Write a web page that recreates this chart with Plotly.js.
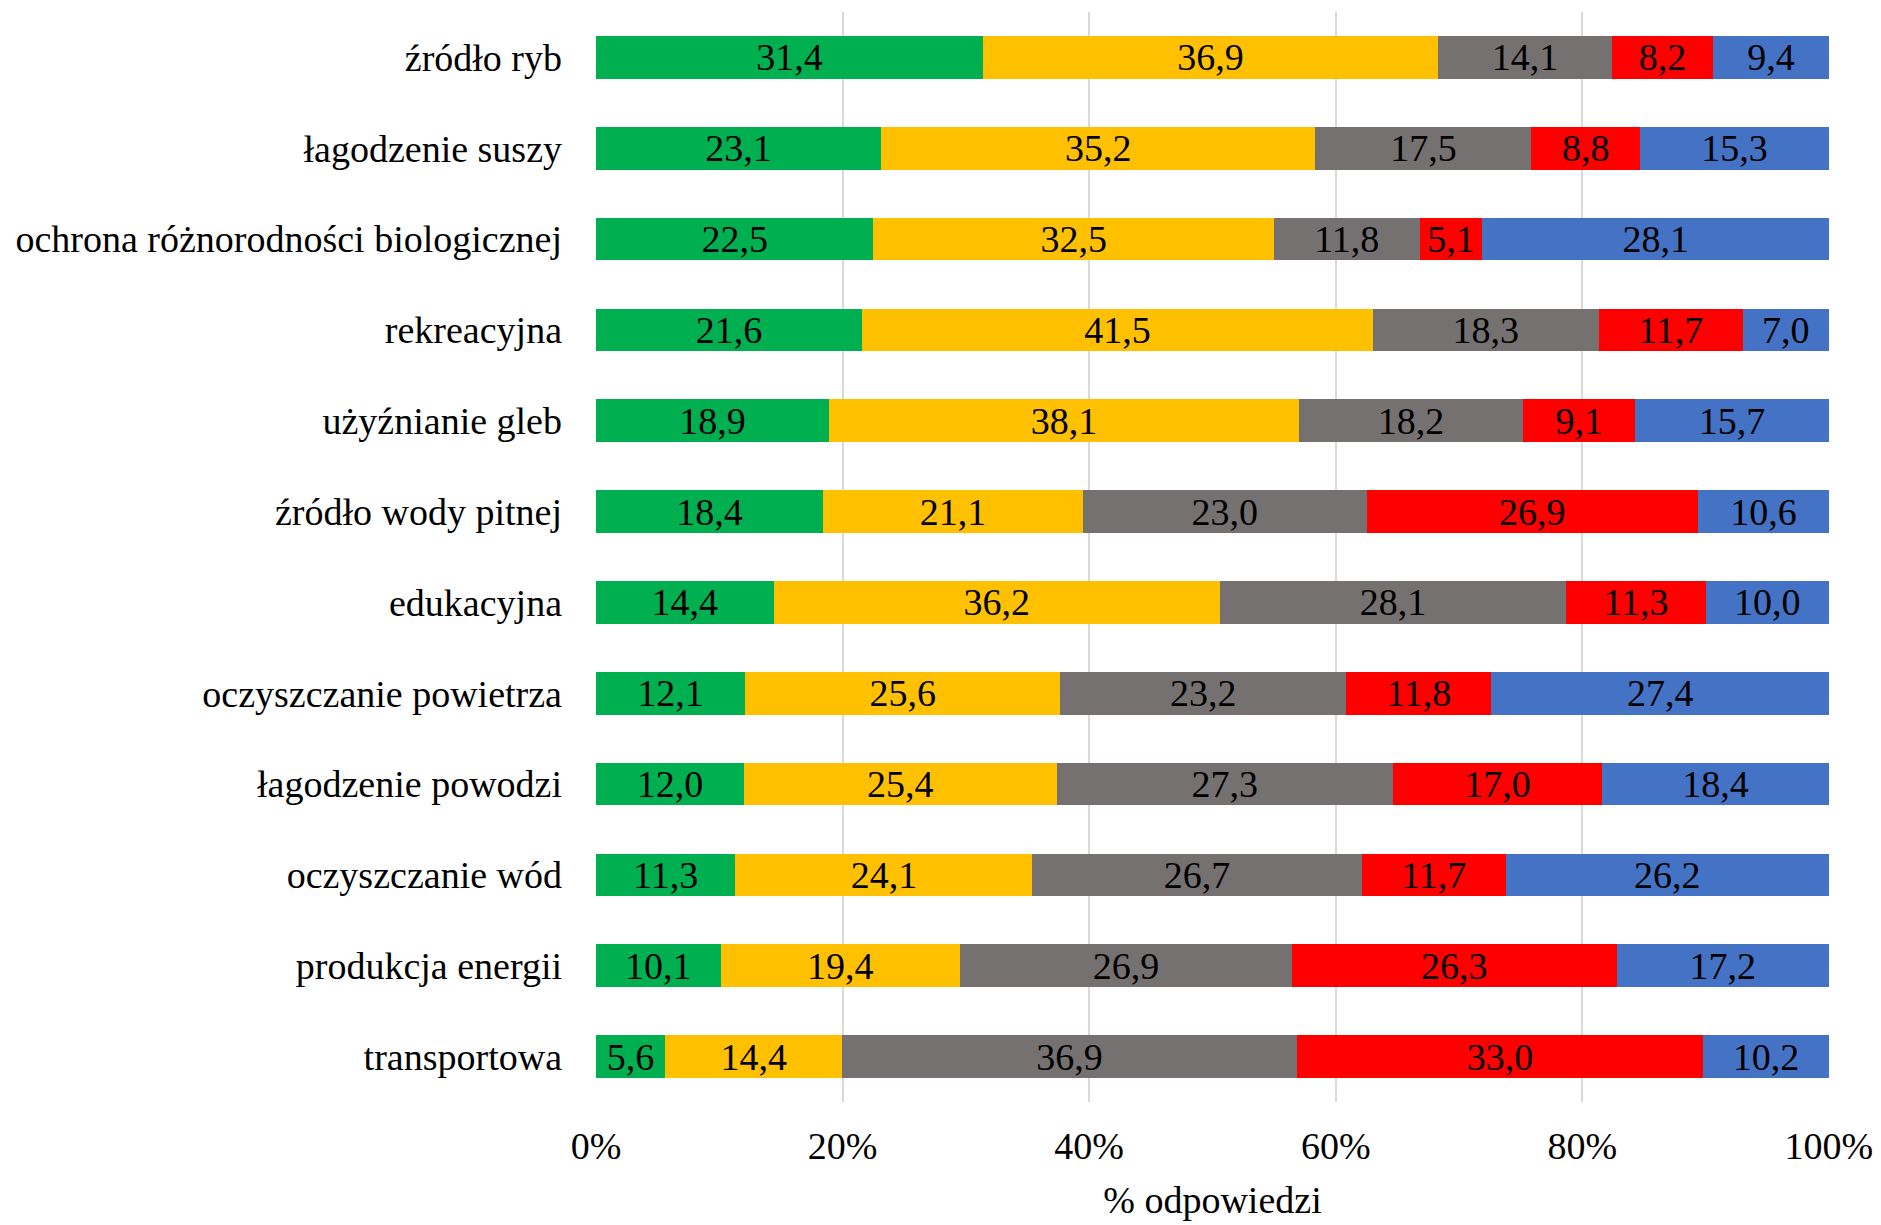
<!DOCTYPE html>
<html>
<head>
<meta charset="utf-8">
<script src="https://cdn.plot.ly/plotly-3.0.1.min.js"></script>
<style>html,body{margin:0;padding:0;background:#fff;}#chart{width:1881px;height:1225px;}</style>
</head>
<body>
<div id="chart"></div>
<script>
const categories = [
  "źródło ryb",
  "łagodzenie suszy",
  "ochrona różnorodności biologicznej",
  "rekreacyjna",
  "użyźnianie gleb",
  "źródło wody pitnej",
  "edukacyjna",
  "oczyszczanie powietrza",
  "łagodzenie powodzi",
  "oczyszczanie wód",
  "produkcja energii",
  "transportowa"
];
const series1 = [31.4, 23.1, 22.5, 21.6, 18.9, 18.4, 14.4, 12.1, 12.0, 11.3, 10.1, 5.6];
const series2 = [36.9, 35.2, 32.5, 41.5, 38.1, 21.1, 36.2, 25.6, 25.4, 24.1, 19.4, 14.4];
const series3 = [14.1, 17.5, 11.8, 18.3, 18.2, 23.0, 28.1, 23.2, 27.3, 26.7, 26.9, 36.9];
const series4 = [8.2, 8.8, 5.1, 11.7, 9.1, 26.9, 11.3, 11.8, 17.0, 11.7, 26.3, 33.0];
const series5 = [9.4, 15.3, 28.1, 7.0, 15.7, 10.6, 10.0, 27.4, 18.4, 26.2, 17.2, 10.2];
const seriesNames = ["seria 1", "seria 2", "seria 3", "seria 4", "seria 5"];
const xTickVals = [0, 20, 40, 60, 80, 100];
const xTickText = ["0%", "20%", "40%", "60%", "80%", "100%"];
const xTitle = "% odpowiedzi";

const colors = ["#00B050", "#FFC000", "#767171", "#FF0000", "#4472C4"];
const fontFam = "Liberation Serif";
const fmt = v => v.toFixed(1).replace(".", ",");

const allSeries = [series1, series2, series3, series4, series5];
const traces = allSeries.map((vals, i) => ({
  type: "bar",
  orientation: "h",
  name: seriesNames[i],
  y: categories,
  x: vals,
  text: vals.map(fmt),
  textposition: "inside",
  insidetextanchor: "middle",
  textangle: 0,
  constraintext: "none",
  cliponaxis: false,
  textfont: {family: fontFam, size: 38, color: "#000"},
  marker: {color: colors[i], line: {width: 0}},
  hoverinfo: "skip"
}));

const layout = {
  width: 1881,
  height: 1225,
  barmode: "stack",
  barnorm: "percent",
  bargap: 0.53,
  showlegend: false,
  paper_bgcolor: "#fff",
  plot_bgcolor: "#fff",
  margin: {l: 596, r: 52, t: 12, b: 123, pad: 0},
  font: {family: fontFam, size: 38, color: "#000"},
  xaxis: {
    range: [0, 100.01],
    tickvals: xTickVals,
    ticktext: xTickText,
    showgrid: true,
    gridcolor: "#D9D9D9",
    gridwidth: 2,
    zeroline: false,
    showline: false,
    ticks: "",
    ticklabelstandoff: 18,
    tickfont: {family: fontFam, size: 38, color: "#000"},
    title: {text: xTitle, font: {family: fontFam, size: 38, color: "#000"}, standoff: 20},
    fixedrange: true
  },
  yaxis: {
    autorange: "reversed",
    showgrid: false,
    zeroline: false,
    showline: false,
    ticks: "",
    ticklabelstandoff: 33,
    tickfont: {family: fontFam, size: 38, color: "#000"},
    fixedrange: true
  }
};

Plotly.newPlot("chart", traces, layout, {displayModeBar: false, staticPlot: true});
</script>
</body>
</html>
